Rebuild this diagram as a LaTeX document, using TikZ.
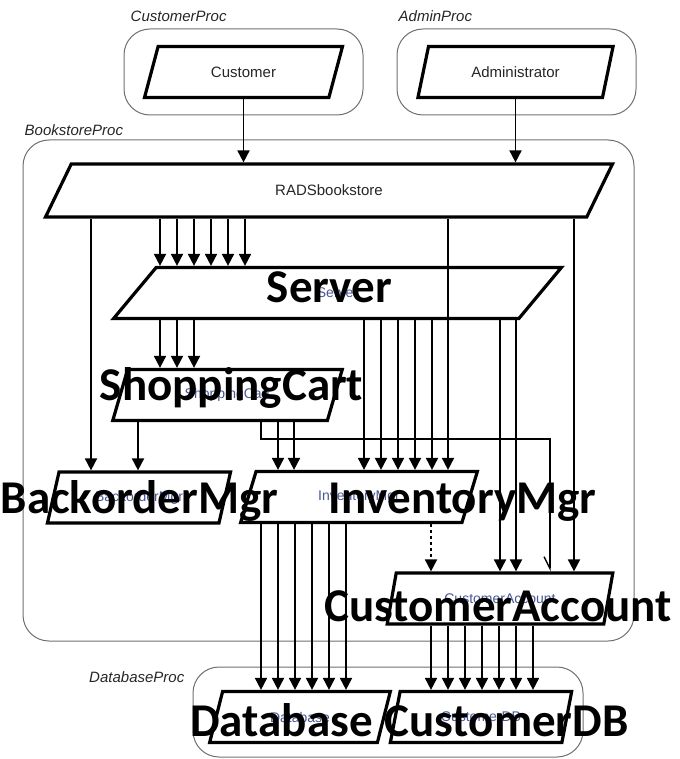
\documentclass[tikz,border=0pt]{standalone}
\usepackage{fontspec}
\setmainfont{Liberation Sans}
\newfontfamily\calibri{Carlito}
\usetikzlibrary{shapes.geometric,arrows.meta,positioning}
\definecolor{procgray}{RGB}{112,112,112}
\definecolor{tinyblue}{RGB}{72,88,150}
\tikzset{
     group/.style = { draw=procgray, line width=1pt, rounded corners=26pt, inner sep=0pt },
    plabel/.style = { font=\itshape\fontsize{15}{15}\selectfont, text=black!85, inner sep=0pt },
      para/.style = { trapezium, trapezium left angle=64, trapezium right angle=116,
                      trapezium stretches=true, draw, line width=3.2pt, fill=white,
                      minimum height=51pt, minimum width=#1, inner sep=0pt,
                      font=\fontsize{15}{15}\selectfont, text=black!85 },
     inner/.style = { para=#1, font=\fontsize{14}{14}\selectfont, text=tinyblue },
    biglbl/.style = { font=\calibri\bfseries\fontsize{47}{47}\selectfont, inner sep=0pt, anchor=base },
     arrow/.style = { line width=1.8pt, -{Triangle[length=12pt, width=12pt]} },
      barb/.style = { line width=1.3pt, -{Straight Barb[right, length=12pt, width=12pt]} },
}

\begin{document}
\begin{tikzpicture}[x=1pt, y=-1pt]
  \useasboundingbox (0,0) rectangle (679,759);

  % process boxes
  \node[group, minimum width=239pt, minimum height=86pt]  (custProc)  at (243.5,72)   {};
  \node[group, minimum width=239pt, minimum height=86pt]  (adminProc) at (516.5,72)   {};
  \node[group, minimum width=611pt, minimum height=501pt] (storeProc) at (328.5,390.5) {};
  \node[group, minimum width=390pt, minimum height=90pt]  (dbProc)    at (388,712)    {};
  \node[plabel, anchor=base west] (custProcLbl)  at ([xshift=7pt, yshift=7pt]custProc.north west)   {CustomerProc};
  \node[plabel, anchor=base west] (adminProcLbl) at ([xshift=2pt, yshift=7pt]adminProc.north west)  {AdminProc};
  \node[plabel, anchor=base west] (storeProcLbl) at ([xshift=2pt, yshift=4pt]storeProc.north west)  {BookstoreProc};
  \node[plabel, anchor=base east] (dbProcLbl)    at ([xshift=-8pt, yshift=-16pt]dbProc.north west) {DatabaseProc};

  % components
  \node[para=199pt] (customer) at (243.5,72) {Customer};
  \node[para=197pt] (admin)    at (515.5,72) {Administrator};
  \node[para=568pt, minimum height=53pt] (rads) at (329,190.5) {RADSbookstore};
  \node[inner=449pt] (server)    at (337.5,293)  {Server};
  \node[inner=231pt] (cart)      at (227.5,395)  {ShoppingCart};
  \node[inner=184pt] (backorder) at (139,497.5)  {BackorderMgr};
  \node[inner=238pt] (inventory) at (359,497)    {InventoryMgr};
  \node[inner=226pt] (account)   at (500,598.5)  {CustomerAccount};
  \node[inner=182pt] (database)  at (300,717)    {Database};
  \node[inner=182pt] (custdb)    at (481,717)    {CustomerDB};

  % connectors
  \draw[arrow] (customer.bottom side -| customer) -- (rads.top side -| customer);
  \draw[arrow] (admin.bottom side -| admin) -- (rads.top side -| admin);
  \foreach \x in {160,177,...,245}
    \draw[arrow] (\x,0 |- rads.bottom side) -- (\x,0 |- server.top side);
  \draw[arrow] (91,0 |- rads.bottom side) -- (91,0 |- backorder.top side);
  \draw[arrow] (448,0 |- rads.bottom side) -- (448,0 |- inventory.top side);
  \draw[arrow] (574,0 |- rads.bottom side) -- (574,0 |- account.top side);
  \foreach \x in {160,177,194}
    \draw[arrow] (\x,0 |- server.bottom side) -- (\x,0 |- cart.top side);
  \foreach \x in {364,381,...,432}
    \draw[arrow] (\x,0 |- server.bottom side) -- (\x,0 |- inventory.top side);
  \foreach \x in {500,516}
    \draw[arrow] (\x,0 |- server.bottom side) -- (\x,0 |- account.top side);
  \draw[arrow] (138,0 |- cart.bottom side) -- (138,0 |- backorder.top side);
  \foreach \x in {278,294}
    \draw[arrow] (\x,0 |- cart.bottom side) -- (\x,0 |- inventory.top side);
  \draw[barb] (261,0 |- cart.bottom side) -- ++(0,17) -| (550,0 |- account.top side);
  \draw[arrow, dash pattern=on 3pt off 3pt] (431,0 |- inventory.bottom side) -- (431,0 |- account.top side);
  \foreach \x in {261,278,...,346}
    \draw[arrow] (\x,0 |- inventory.bottom side) -- (\x,0 |- database.top side);
  \foreach \x in {431,448,...,533}
    \draw[arrow] (\x,0 |- account.bottom side) -- (\x,0 |- custdb.top side);

  % big labels
  \node[biglbl] (serverLbl)    at (329.5,302) {Server};
  \node[biglbl] (cartLbl)      at (231.5,400) {ShoppingCart};
  \node[biglbl] (backorderLbl) at (139.5,513) {BackorderMgr};
  \node[biglbl] (inventoryLbl) at (462.5,513) {InventoryMgr};
  \node[biglbl] (accountLbl)   at (498,621)   {CustomerAccount};
  \node[biglbl] (databaseLbl)  at (281.5,736) {Database};
  \node[biglbl] (custdbLbl)    at (506.5,736) {CustomerDB};
\end{tikzpicture}
\end{document}
